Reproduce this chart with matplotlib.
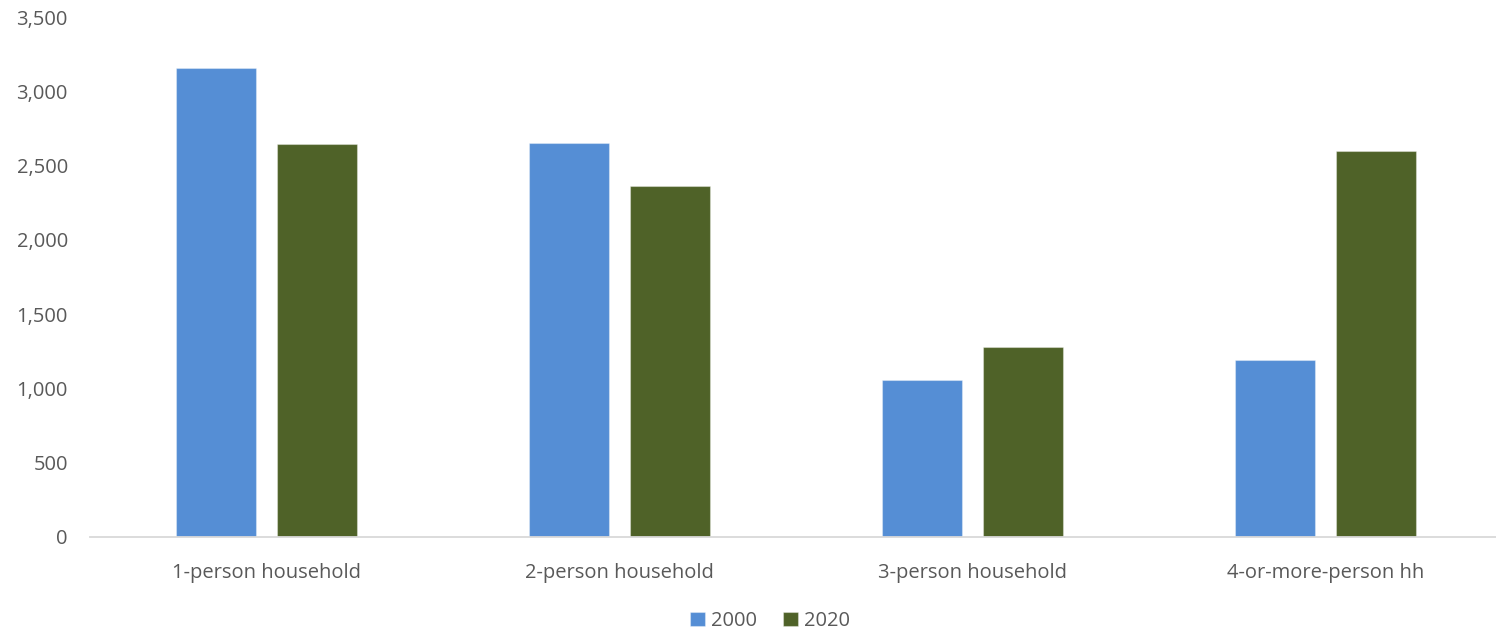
import matplotlib.pyplot as plt
import numpy as np

categories = ["1-person household", "2-person household", "3-person household", "4-or-more-person hh"]
series_names = ["2000", "2020"]
values_2000 = [3160, 2650, 1055, 1190]
values_2020 = [2645, 2360, 1278, 2598]
y_ticks = [0, 500, 1000, 1500, 2000, 2500, 3000, 3500]

colors = ["#558ED5", "#4F6228"]
text_color = "#595959"

plt.rcParams['font.family'] = ['Open Sans', 'DejaVu Sans']

W, H = 1496, 635
fig = plt.figure(figsize=(W / 100, H / 100), dpi=100)
left_px, right_px, top_px, bottom_px = 90, 1496, 17, 537
ax = fig.add_axes([left_px / W, 1 - bottom_px / H, (right_px - left_px) / W, (bottom_px - top_px) / H])

x = np.arange(len(categories))
bw = 0.224
off = 0.143
for i, (vals, c, name) in enumerate(zip([values_2000, values_2020], colors, series_names)):
    ax.bar(x + (-off if i == 0 else off), vals, width=bw, color=c, label=name,
           edgecolor=(1, 1, 1, 0.35), linewidth=0.8, zorder=2)

ax.set_ylim(0, 3500)
group_px = 353
ax.set_xlim(-0.5, -0.5 + (right_px - left_px) / group_px)
ax.set_yticks(y_ticks)
ax.set_yticklabels([f"{v:,}" for v in y_ticks])
ax.set_xticks(x)
ax.set_xticklabels(categories)
ax.tick_params(axis='both', length=0, colors=text_color, labelsize=14.5)
ax.tick_params(axis='y', pad=16)
ax.tick_params(axis='x', pad=19)

for s in ["top", "right", "left"]:
    ax.spines[s].set_visible(False)
ax.spines["bottom"].set_color("#D9D9D9")
ax.spines["bottom"].set_linewidth(1.3)

leg = fig.legend(loc="center", bbox_to_anchor=(770 / W, 1 - 621 / H), ncol=2, frameon=False,
                 fontsize=14.5, handlelength=0.75, handleheight=0.75, handletextpad=0.3,
                 columnspacing=1.3)
for t in leg.get_texts():
    t.set_color(text_color)

fig.savefig("out.png", dpi=100)
